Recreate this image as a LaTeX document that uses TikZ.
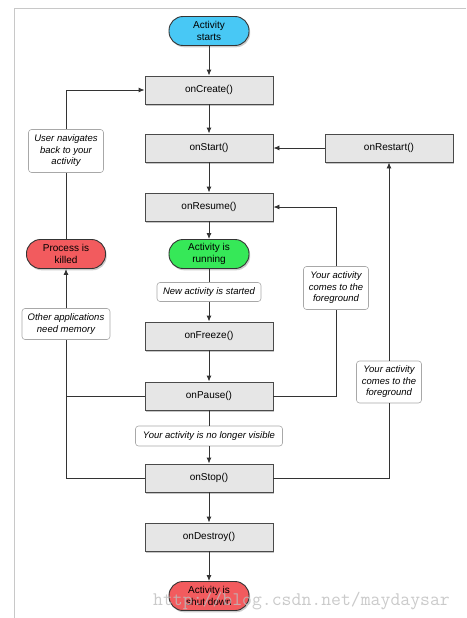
\documentclass[tikz,border=0pt]{standalone}
\usepackage{fontspec}
\setmainfont{Liberation Sans}
\usetikzlibrary{arrows.meta,shadows}
\definecolor{boxfill}{HTML}{E6E6E6}
\definecolor{boxline}{HTML}{4A4A4A}
\definecolor{linec}{HTML}{333333}
\definecolor{cyanfill}{HTML}{48C8F5}
\definecolor{greenfill}{HTML}{36E858}
\definecolor{redfill}{HTML}{F25B5E}
\definecolor{notec}{HTML}{A8A8A8}
\definecolor{framec}{HTML}{C8C8C8}
\definecolor{wmark}{HTML}{BDBDBD}
\tikzset{
  method/.style={draw=boxline, fill=boxfill, line width=0.9pt, minimum width=128pt, minimum height=28pt,
    inner sep=0pt, font=\fontsize{10}{12}\selectfont,
    drop shadow={shadow xshift=1.2pt, shadow yshift=-1.8pt, opacity=0.45}},
  pill/.style={draw=boxline!70!black, line width=0.9pt, rounded corners=14pt, minimum width=80pt, minimum height=29pt,
    inner sep=0pt, align=center, font=\fontsize{10}{11.5}\selectfont,
    drop shadow={shadow xshift=1.2pt, shadow yshift=-1.8pt, opacity=0.4}},
  note/.style={draw=notec, fill=white, line width=0.6pt, rounded corners=3pt, inner sep=2pt, align=center,
    font=\itshape\fontsize{9.5}{11.5}\selectfont},
  conn/.style={draw=linec, line width=0.9pt},
  arr/.style={conn, -{Latex[length=6pt,width=5pt]}},
}
\begin{document}
\begin{tikzpicture}[x=1pt,y=-1pt]
\useasboundingbox (0,0) rectangle (466,618);
\draw[framec, line width=0.8pt] (466,8) -- (14,8) -- (14,618);

% main chain
\node[pill, fill=cyanfill] (start) at (209,31) {Activity\\starts};
\node[method] (create) at (209,90) {onCreate()};
\node[method] (ostart) at (209,148) {onStart()};
\node[method] (restart) at (389,148) {onRestart()};
\node[method] (resume) at (209,207) {onResume()};
\node[pill, fill=greenfill] (running) at (209,254) {Activity is\\running};
\node[pill, fill=redfill, minimum width=79pt] (killed) at (66,254) {Process is\\killed};
\node[note, minimum width=104pt, minimum height=19pt] (newact) at (209,292) {New activity is started};
\node[method] (freeze) at (209,336) {onFreeze()};
\node[method] (pause) at (209,396) {onPause()};
\node[note, minimum width=147pt, minimum height=20pt] (novis) at (209,436) {Your activity is no longer visible};
\node[method] (stop) at (209,478) {onStop()};
\node[method] (destroy) at (209,537) {onDestroy()};
\node[pill, fill=redfill] (shut) at (209,596) {Activity is\\shut down};

% annotations
\node[note, minimum width=75pt, minimum height=43pt] (back) at (66,151) {User navigates\\back to your\\activity};
\node[note, minimum width=88pt, minimum height=31pt] (mem) at (66,324) {Other applications\\need memory};
\node[note, minimum width=65pt, minimum height=43pt] (fgone) at (336,288) {Your activity\\comes to the\\foreground};
\node[note, minimum width=65pt, minimum height=42pt] (fgtwo) at (389,382) {Your activity\\comes to the\\foreground};

% central connectors
\draw[arr] (start) -- (create);
\draw[arr] (create) -- (ostart);
\draw[arr] (ostart) -- (resume);
\draw[arr] (resume) -- (running);
\draw[conn] (running) -- (newact);
\draw[arr] (newact) -- (freeze);
\draw[arr] (freeze) -- (pause);
\draw[conn] (pause) -- (novis);
\draw[arr] (novis) -- (stop);
\draw[arr] (stop) -- (destroy);
\draw[arr] (destroy) -- (shut);

% left side
\draw[conn] (stop.west) -| (mem.south);
\draw[conn] (pause.west) -- (pause.west -| mem.south);
\draw[arr] (mem.north) -- (killed.south);
\draw[conn] (killed.north) -- (back.south);
\draw[arr] (back.north) |- (create.west);

% right side
\draw[arr] (restart.west) -- (ostart.east);
\draw[conn] (pause.east) -| (fgone.south);
\draw[arr] (fgone.north) |- (resume.east);
\draw[conn] (stop.east) -| (fgtwo.south);
\draw[arr] (fgtwo.north) -- (restart.south);

% watermark
\node[anchor=base west, text=wmark, opacity=0.8, inner sep=0pt, font=\ttfamily\fontsize{19.2}{20}\selectfont] (wm) at (153,605) {http://blog.csdn.net/maydaysar};
\end{tikzpicture}
\end{document}
